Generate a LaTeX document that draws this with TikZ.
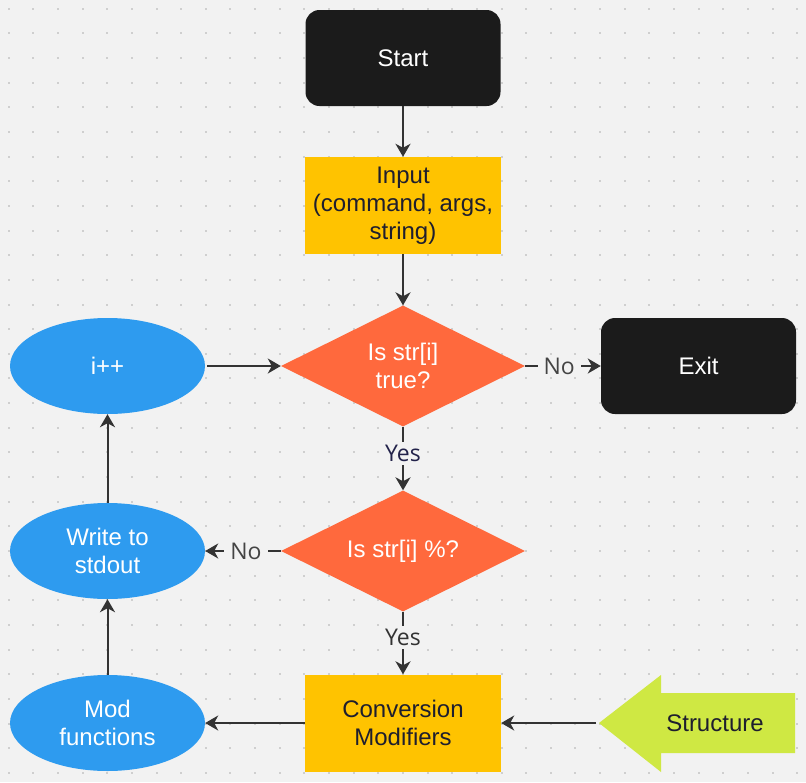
\documentclass[tikz,border=0pt]{standalone}
\usepackage{fontspec}
\setmainfont{Liberation Sans}
\newfontfamily\labelfont{Open Sans}
\usetikzlibrary{shapes.geometric,arrows.meta}
\definecolor{bgc}{HTML}{F2F2F2}
\definecolor{dotc}{HTML}{CFCFCF}
\definecolor{termc}{HTML}{1B1B1B}
\definecolor{procc}{HTML}{FFC300}
\definecolor{decc}{HTML}{FF693D}
\definecolor{ellc}{HTML}{2E9BEF}
\definecolor{limec}{HTML}{CFE843}
\definecolor{linec}{HTML}{333333}
\definecolor{txtc}{HTML}{1E1E2E}
\definecolor{navyc}{HTML}{22224A}
\definecolor{grayc}{HTML}{444444}
\begin{document}
\begin{tikzpicture}[x=1pt,y=-1pt,
  base/.style={font=\fontsize{24}{28}\selectfont, align=center, inner sep=0pt},
  term/.style={base, rectangle, rounded corners=14pt, fill=termc, text=white, minimum width=195pt, minimum height=96pt},
  proc/.style={base, rectangle, fill=procc, text=txtc, minimum width=196pt, minimum height=97pt},
  dec/.style={base, diamond, aspect=2, fill=decc, text=white, minimum width=244pt, minimum height=121pt},
  io/.style={base, ellipse, fill=ellc, text=white, minimum width=195pt, minimum height=96pt},
  arr/.style={draw=linec, line width=2pt, -{Stealth[length=13pt,width=15pt,inset=4pt]}},
  lbl/.style={font=\labelfont\fontsize{23}{26}\selectfont, fill=bgc, text=grayc, inner xsep=6pt, inner ysep=3pt}
]
\useasboundingbox (0,0) rectangle (806,782);
\fill[bgc] (0,0) rectangle (806,782);
\foreach \i in {0,...,32}{
  \foreach \j in {0,...,31}{
    \fill[dotc] ({7.7+24.64*\i},{7.7+24.65*\j}) rectangle ++(2,2);
  }
}
% nodes
\node[term] (start) at (403,58) {Start};
\node[proc] (input) at (403,205.5) {Input\\(command, args,\\string)};
\node[dec] (dec1) at (403,366) {Is str[i]\\true?};
\node[term] (exit) at (698.5,366) {Exit};
\node[io] (inc) at (107.5,366) {i++};
\node[dec] (dec2) at (403,551) {Is str[i] \%?};
\node[io] (write) at (107.5,551) {Write to\\stdout};
\node[io] (mod) at (107.5,723) {Mod\\functions};
\node[proc] (conv) at (403,723) {Conversion\\Modifiers};
% structure arrow shape
\fill[limec] (599,723) -- (661,675) -- (661,693) -- (795,693) -- (795,753) -- (661,753) -- (661,772) -- cycle;
\coordinate (structtip) at (596,723);
\node[base, text=txtc] (structure) at (715,723) {Structure};
% connectors
\draw[arr] (start) -- (input);
\draw[arr] (input) -- (dec1);
\draw[arr] ([xshift=2pt]inc.east) -- (dec1);
\draw[arr] (dec1) -- node[lbl, pos=0.45] {No} (exit);
\draw[arr] (dec1) -- node[lbl, pos=0.42, text=navyc] {Yes} (dec2);
\draw[arr] (dec2) -- node[lbl, pos=0.46] {No} (write);
\draw[arr] (dec2) -- node[lbl, pos=0.41, text=linec] {Yes} (conv);
\draw[arr] (conv) -- (mod);
\draw[arr] (structtip) -- (conv);
\draw[arr] (mod) -- (write);
\draw[arr] (write) -- (inc);
\end{tikzpicture}
\end{document}
